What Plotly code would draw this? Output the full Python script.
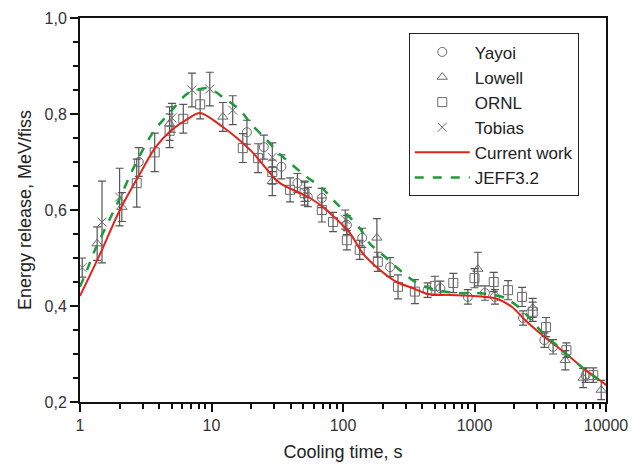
import plotly.graph_objects as go

# ---- data ----
current_x = [1.0, 1.42, 2.01, 2.96, 3.71, 5.0, 6.6, 8.2, 12.2, 15.6, 20.7, 27.8, 33.2, 44.7, 56, 70.5, 90, 113,
             141, 191, 256, 341, 442, 650, 980, 1440, 1930, 2420, 3430, 4900, 6960, 9530, 10000]
current_y = [0.421, 0.508, 0.600, 0.683, 0.729, 0.767, 0.790, 0.802, 0.773, 0.750, 0.719, 0.677, 0.656, 0.638, 0.625,
             0.606, 0.580, 0.552, 0.510, 0.475, 0.450, 0.437, 0.425, 0.423, 0.421, 0.416, 0.398, 0.371, 0.335,
             0.302, 0.267, 0.240, 0.235]

jeff_x = [1.0, 1.15, 1.3, 1.95, 2.62, 3.6, 5.0, 6.6, 9.4, 12.2, 16.5, 20.3, 25.5, 32, 41, 53, 69, 87, 108, 134,
          160, 214, 286, 385, 518, 735, 1040, 1380, 1700, 2300, 3000, 4600, 6960, 9530, 10000]
jeff_y = [0.440, 0.480, 0.517, 0.617, 0.694, 0.762, 0.808, 0.843, 0.854, 0.835, 0.808, 0.777, 0.750, 0.720, 0.694,
          0.669, 0.646, 0.617, 0.590, 0.562, 0.530, 0.500, 0.469, 0.444, 0.433, 0.427, 0.427, 0.423, 0.417,
          0.392, 0.356, 0.308, 0.267, 0.240, 0.236]

yayoi_x = [2.8, 18.6, 25, 34, 45, 54, 69, 107, 140, 228, 440, 550, 890, 1200, 1430, 2340, 3400, 3960, 7000]
yayoi_y = [0.700, 0.762, 0.731, 0.690, 0.656, 0.627, 0.625, 0.569, 0.542, 0.481, 0.433, 0.437, 0.419, 0.427,
           0.419, 0.375, 0.329, 0.315, 0.256]
yayoi_e = [0.03, 0.025, 0.025, 0.025, 0.02, 0.02, 0.02, 0.02, 0.02, 0.02, 0.015, 0.015, 0.015, 0.015, 0.015,
           0.015, 0.015, 0.015, 0.015]

lowell_x = [1.35, 2.08, 4.8, 12.2, 29, 181, 1060, 2770, 4900, 6700, 9200]
lowell_y = [0.530, 0.606, 0.780, 0.794, 0.660, 0.542, 0.477, 0.396, 0.287, 0.250, 0.225]
lowell_e = [0.035, 0.03, 0.035, 0.03, 0.03, 0.04, 0.035, 0.02, 0.02, 0.02, 0.02]

ornl_x = [2.7, 3.7, 4.8, 6.1, 8.2, 17.3, 22.6, 29, 39.6, 51, 69, 84, 107, 134, 184, 262, 352, 500, 690, 1000,
          1400, 1800, 2300, 2770, 3500, 5000, 8000]
ornl_y = [0.656, 0.720, 0.765, 0.790, 0.820, 0.729, 0.708, 0.679, 0.642, 0.635, 0.600, 0.575, 0.537, 0.517,
          0.492, 0.440, 0.430, 0.442, 0.448, 0.458, 0.450, 0.433, 0.419, 0.388, 0.356, 0.308, 0.256]
ornl_e = [0.05, 0.04, 0.035, 0.03, 0.03, 0.03, 0.03, 0.025, 0.025, 0.025, 0.025, 0.02, 0.02, 0.02, 0.02, 0.025,
          0.025, 0.02, 0.02, 0.02, 0.02, 0.02, 0.02, 0.02, 0.02, 0.015, 0.015]

tobias_x = [1.04, 1.47, 2.0, 5.0, 7.1, 9.7, 14.5, 29, 51, 104]
tobias_y = [0.480, 0.575, 0.627, 0.792, 0.850, 0.852, 0.808, 0.710, 0.638, 0.580]
tobias_e = [0.02, 0.085, 0.06, 0.03, 0.035, 0.035, 0.03, 0.03, 0.02, 0.02]

x_tickvals = [1, 10, 100, 1000, 10000]
x_ticktext = ["1", "10", "100", "1000", "10000"]
y_tickvals = [0.2, 0.4, 0.6, 0.8, 1.0]
y_ticktext = ["0,2", "0,4", "0,6", "0,8", "1,0"]

# ---- figure ----
fig = go.Figure()
mk_col = "#6a6a6a"
err_col = "#555555"

def exp_trace(name, xs, ys, es, symbol):
    return go.Scatter(
        x=xs, y=ys, mode="markers", name=name,
        marker=dict(symbol=symbol, size=9, color=mk_col, line=dict(width=1, color=mk_col)),
        error_y=dict(type="data", array=es, visible=True, color=err_col, thickness=1.2, width=4),
    )

fig.add_trace(exp_trace("Yayoi", yayoi_x, yayoi_y, yayoi_e, "circle-open"))
fig.add_trace(exp_trace("Lowell", lowell_x, lowell_y, lowell_e, "triangle-up-open"))
fig.add_trace(exp_trace("ORNL", ornl_x, ornl_y, ornl_e, "square-open"))
fig.add_trace(exp_trace("Tobias", tobias_x, tobias_y, tobias_e, "x-thin-open"))

fig.add_trace(go.Scatter(x=current_x, y=current_y, mode="lines", name="Current work",
                         line=dict(color="#e0241c", width=2, shape="spline", smoothing=0.8)))
fig.add_trace(go.Scatter(x=jeff_x, y=jeff_y, mode="lines", name="JEFF3.2",
                         line=dict(color="#1f9a3a", width=2.5, dash="dash", shape="spline", smoothing=0.8)))

minor_x = [m * d for d in [1, 10, 100, 1000] for m in range(2, 10)]
minor_y = [0.25, 0.3, 0.35, 0.45, 0.5, 0.55, 0.65, 0.7, 0.75, 0.85, 0.9, 0.95]

# the page body has an 8px default margin; the figure is sized to compensate
font_fam = "Liberation Sans, Arial, sans-serif"
fig.update_layout(
    width=633, height=460,
    margin=dict(l=72, r=35, t=10, b=66, autoexpand=False),
    paper_bgcolor="white", plot_bgcolor="white",
    font=dict(family=font_fam, color="#222"),
    showlegend=True,
    legend=dict(x=0.625, y=0.96, xanchor="left", yanchor="top",
                bordercolor="#222", borderwidth=1, bgcolor="white",
                font=dict(size=17, family=font_fam, color="#222"),
                tracegroupgap=0, itemwidth=55),
    xaxis=dict(type="log", range=[0, 4], tickvals=x_tickvals, ticktext=x_ticktext, automargin=False,
               showgrid=False, zeroline=False, showline=True, linecolor="#111", linewidth=2, mirror=True,
               ticks="outside", ticklen=8, tickwidth=2, tickcolor="#111",
               tickfont=dict(size=16, color="#333"),
               minor=dict(tickvals=minor_x, ticks="outside", ticklen=5, tickwidth=2, tickcolor="#111", showgrid=False),
               title=dict(text="Cooling time, s", font=dict(size=18, color="#222"), standoff=12)),
    yaxis=dict(range=[0.2, 1.0], tickvals=y_tickvals, ticktext=y_ticktext, automargin=False,
               showgrid=False, zeroline=False, showline=True, linecolor="#111", linewidth=2, mirror=True,
               ticks="outside", ticklen=8, tickwidth=2, tickcolor="#111",
               tickfont=dict(size=16, color="#333"),
               minor=dict(tickvals=minor_y, ticks="outside", ticklen=5, tickwidth=2, tickcolor="#111", showgrid=False),
               title=dict(text="Energy release, MeV/fiss", font=dict(size=18, color="#222"), standoff=8)),
)

fig.write_html("out.html")
